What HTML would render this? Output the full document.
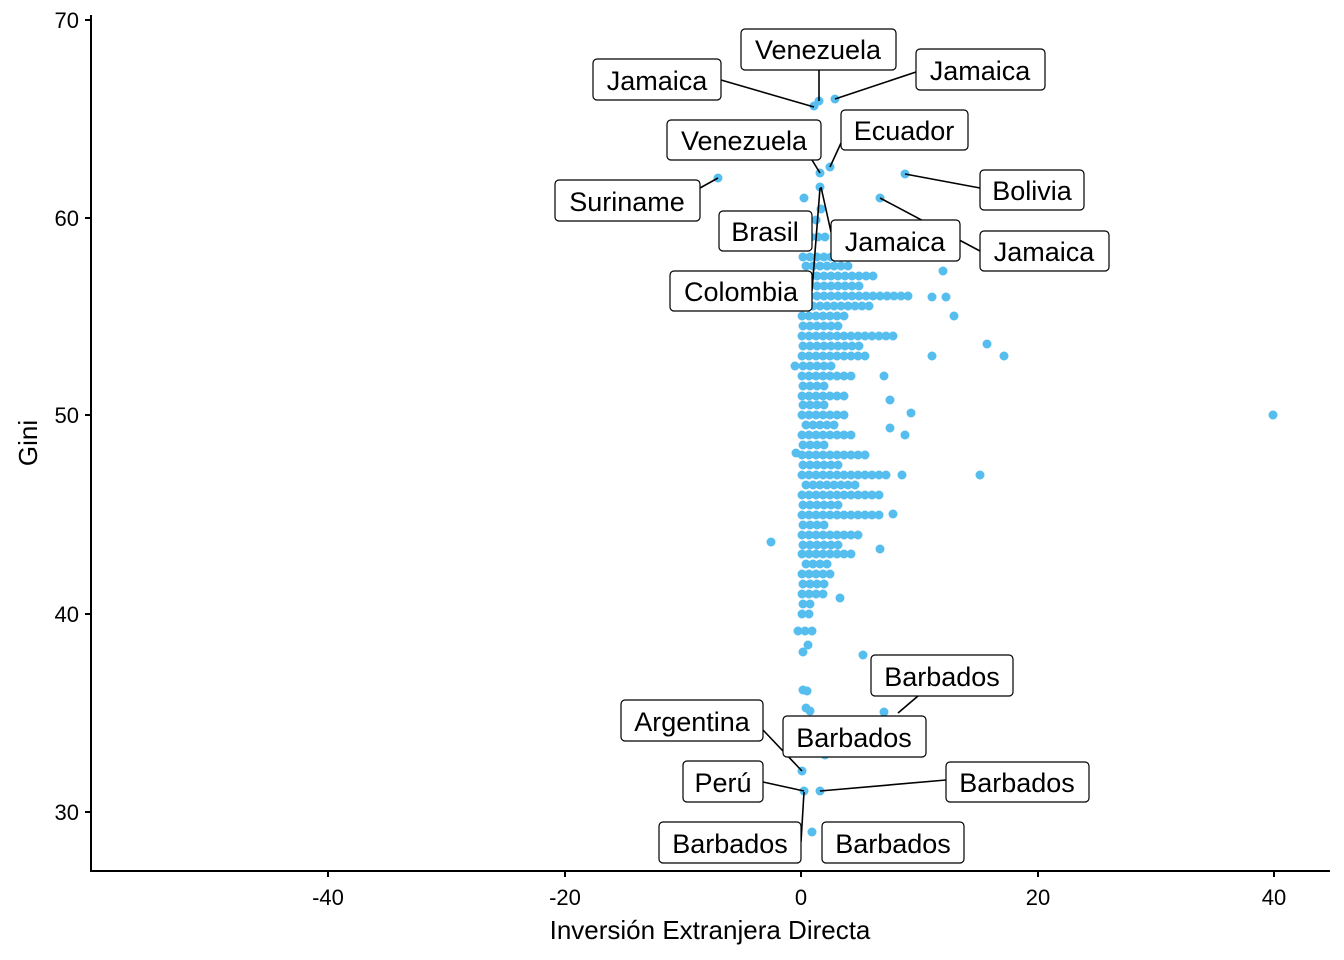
<!DOCTYPE html>
<html><head><meta charset="utf-8"><style>
html,body{margin:0;padding:0;background:#fff}
svg{display:block}
text{font-family:"Liberation Sans",Arial,sans-serif}
</style></head><body>
<svg width="1344" height="960" xmlns="http://www.w3.org/2000/svg">
<rect width="1344" height="960" fill="#fff"/>
<line x1="91" y1="15" x2="91" y2="871" stroke="#000" stroke-width="2"/>
<line x1="90" y1="871" x2="1330" y2="871" stroke="#000" stroke-width="2"/>
<g stroke="#000" stroke-width="2">
<line x1="85" y1="20" x2="91" y2="20"/><line x1="85" y1="218" x2="91" y2="218"/><line x1="85" y1="415" x2="91" y2="415"/><line x1="85" y1="614" x2="91" y2="614"/><line x1="85" y1="812" x2="91" y2="812"/>
<line x1="328" y1="871" x2="328" y2="877"/><line x1="565" y1="871" x2="565" y2="877"/><line x1="801" y1="871" x2="801" y2="877"/><line x1="1038" y1="871" x2="1038" y2="877"/><line x1="1274" y1="871" x2="1274" y2="877"/>
</g>
<g font-size="22" fill="#000" text-anchor="end">
<text x="79" y="28">70</text><text x="79" y="226">60</text><text x="79" y="423">50</text><text x="79" y="622">40</text><text x="79" y="820">30</text>
</g>
<g font-size="22" fill="#000" text-anchor="middle">
<text x="328" y="905">-40</text><text x="565" y="905">-20</text><text x="801" y="905">0</text><text x="1038" y="905">20</text><text x="1274" y="905">40</text>
</g>
<text x="710" y="939" font-size="26" text-anchor="middle">Inversión Extranjera Directa</text>
<text x="37" y="443" font-size="26" text-anchor="middle" transform="rotate(-90 37 443)">Gini</text>
<g stroke="#56BDEF" stroke-width="9" stroke-linecap="round" stroke-dasharray="0 7">
<line x1="804" y1="237" x2="828" y2="237"/>
<line x1="803" y1="257" x2="833" y2="257"/>
<line x1="803" y1="276" x2="878" y2="276"/>
<line x1="803" y1="296" x2="910" y2="296"/>
<line x1="802" y1="316" x2="850" y2="316"/>
<line x1="802" y1="336" x2="895" y2="336"/>
<line x1="802" y1="356" x2="872" y2="356"/>
<line x1="802" y1="376" x2="858" y2="376"/>
<line x1="802" y1="396" x2="850" y2="396"/>
<line x1="802" y1="415" x2="845" y2="415"/>
<line x1="802" y1="435" x2="852" y2="435"/>
<line x1="802" y1="455" x2="870" y2="455"/>
<line x1="802" y1="475" x2="888" y2="475"/>
<line x1="802" y1="495" x2="885" y2="495"/>
<line x1="802" y1="515" x2="880" y2="515"/>
<line x1="802" y1="535" x2="865" y2="535"/>
<line x1="802" y1="554" x2="858" y2="554"/>
<line x1="802" y1="574" x2="835" y2="574"/>
<line x1="802" y1="594" x2="825" y2="594"/>
<line x1="802" y1="614" x2="815" y2="614"/>
<line x1="798" y1="631" x2="816" y2="631"/>
<line x1="803" y1="286" x2="860" y2="286"/>
<line x1="803" y1="326" x2="840" y2="326"/>
<line x1="803" y1="346" x2="860" y2="346"/>
<line x1="803" y1="386" x2="830" y2="386"/>
<line x1="803" y1="445" x2="825" y2="445"/>
<line x1="803" y1="505" x2="840" y2="505"/>
<line x1="803" y1="545" x2="845" y2="545"/>
<line x1="803" y1="584" x2="825" y2="584"/>
<line x1="803" y1="604" x2="815" y2="604"/>
<line x1="803" y1="525" x2="830" y2="525"/>
<line x1="803" y1="465" x2="840" y2="465"/>
<line x1="803" y1="405" x2="830" y2="405"/>
<line x1="803" y1="366" x2="835" y2="366"/>
<line x1="806" y1="266" x2="850" y2="266"/>
<line x1="806" y1="306" x2="870" y2="306"/>
<line x1="806" y1="485" x2="860" y2="485"/>
<line x1="806" y1="425" x2="835" y2="425"/>
<line x1="806" y1="564" x2="830" y2="564"/>
</g>
<g fill="#56BDEF">
<circle cx="814" cy="106" r="4.5"/><circle cx="819" cy="101" r="4.5"/><circle cx="835" cy="99" r="4.5"/>
<circle cx="830" cy="167" r="4.5"/><circle cx="820" cy="173" r="4.5"/><circle cx="718" cy="178" r="4.5"/>
<circle cx="905" cy="174" r="4.5"/><circle cx="880" cy="198" r="4.5"/><circle cx="820" cy="187" r="4.5"/>
<circle cx="804" cy="198" r="4.5"/><circle cx="821" cy="209" r="4.5"/><circle cx="816" cy="220" r="4.5"/>
<circle cx="943" cy="271" r="4.5"/><circle cx="946" cy="297" r="4.5"/><circle cx="954" cy="316" r="4.5"/>
<circle cx="987" cy="344" r="4.5"/><circle cx="1004" cy="356" r="4.5"/><circle cx="932" cy="356" r="4.5"/>
<circle cx="884" cy="376" r="4.5"/><circle cx="795" cy="366" r="4.5"/><circle cx="890" cy="400" r="4.5"/>
<circle cx="911" cy="413" r="4.5"/><circle cx="890" cy="428" r="4.5"/><circle cx="905" cy="435" r="4.5"/>
<circle cx="796" cy="453" r="4.5"/><circle cx="980" cy="475" r="4.5"/><circle cx="902" cy="475" r="4.5"/>
<circle cx="893" cy="514" r="4.5"/><circle cx="880" cy="549" r="4.5"/><circle cx="771" cy="542" r="4.5"/>
<circle cx="840" cy="598" r="4.5"/><circle cx="1273" cy="415" r="4.5"/><circle cx="932" cy="297" r="4.5"/>
<circle cx="803" cy="652" r="4.5"/><circle cx="808" cy="645" r="4.5"/><circle cx="863" cy="655" r="4.5"/>
<circle cx="803" cy="690" r="4.5"/><circle cx="807" cy="691" r="4.5"/><circle cx="806" cy="708" r="4.5"/>
<circle cx="810" cy="711" r="4.5"/><circle cx="884" cy="712" r="4.5"/><circle cx="825" cy="755" r="4.5"/>
<circle cx="802" cy="771" r="4.5"/><circle cx="804" cy="791" r="4.5"/><circle cx="820" cy="791" r="4.5"/>
<circle cx="812" cy="832" r="4.5"/><circle cx="820" cy="733" r="4.5"/>
</g>
<g stroke="#000" stroke-width="1.6">
<line x1="721" y1="80" x2="814" y2="107"/><line x1="819" y1="70" x2="819" y2="101"/>
<line x1="916" y1="72" x2="835" y2="99"/><line x1="841" y1="143" x2="830" y2="167"/>
<line x1="812" y1="160" x2="820" y2="173"/><line x1="700" y1="188" x2="718" y2="178"/>
<line x1="980" y1="188" x2="905" y2="174"/><line x1="980" y1="251" x2="880" y2="198"/>
<line x1="831" y1="232" x2="821" y2="187"/><line x1="812" y1="291" x2="820" y2="188"/>
<line x1="918" y1="696" x2="898" y2="713"/><line x1="763" y1="730" x2="802" y2="771"/>
<line x1="763" y1="782" x2="804" y2="791"/><line x1="946" y1="780" x2="820" y2="791"/>
<line x1="801" y1="842" x2="804" y2="792"/>
</g>
<g fill="#fff" stroke="#000" stroke-width="1.2">
<rect x="741" y="29" width="155" height="41" rx="4"/>
<rect x="593" y="59" width="128" height="41" rx="4"/>
<rect x="916" y="49" width="129" height="41" rx="4"/>
<rect x="841" y="110" width="127" height="40" rx="4"/>
<rect x="667" y="120" width="154" height="40" rx="4"/>
<rect x="555" y="180" width="145" height="41" rx="4"/>
<rect x="980" y="170" width="104" height="40" rx="4"/>
<rect x="719" y="211" width="93" height="40" rx="4"/>
<rect x="831" y="220" width="129" height="41" rx="4"/>
<rect x="980" y="231" width="129" height="40" rx="4"/>
<rect x="670" y="271" width="142" height="40" rx="4"/>
<rect x="871" y="655" width="142" height="41" rx="4"/>
<rect x="621" y="700" width="142" height="41" rx="4"/>
<rect x="783" y="716" width="143" height="41" rx="4"/>
<rect x="683" y="761" width="80" height="41" rx="4"/>
<rect x="946" y="762" width="143" height="40" rx="4"/>
<rect x="659" y="822" width="142" height="41" rx="4"/>
<rect x="822" y="822" width="142" height="41" rx="4"/>
</g>
<g font-size="27" fill="#000" text-anchor="middle">
<text x="818" y="59">Venezuela</text>
<text x="657" y="90">Jamaica</text>
<text x="980" y="80">Jamaica</text>
<text x="904" y="140">Ecuador</text>
<text x="744" y="150">Venezuela</text>
<text x="627" y="211">Suriname</text>
<text x="1032" y="200">Bolivia</text>
<text x="765" y="241">Brasil</text>
<text x="895" y="251">Jamaica</text>
<text x="1044" y="261">Jamaica</text>
<text x="741" y="301">Colombia</text>
<text x="942" y="686">Barbados</text>
<text x="692" y="731">Argentina</text>
<text x="854" y="747">Barbados</text>
<text x="723" y="792">Perú</text>
<text x="1017" y="792">Barbados</text>
<text x="730" y="853">Barbados</text>
<text x="893" y="853">Barbados</text>
</g>
</svg>
</body></html>
